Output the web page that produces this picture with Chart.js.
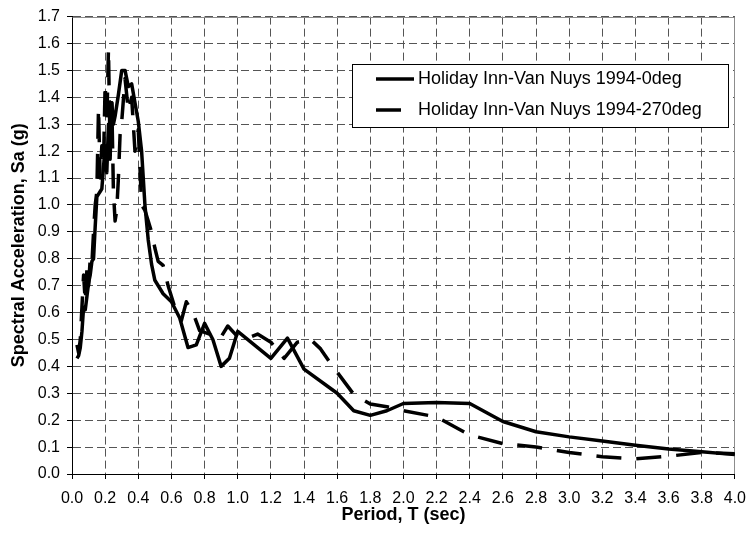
<!DOCTYPE html>
<html>
<head>
<meta charset="utf-8">
<script src="https://cdn.jsdelivr.net/npm/chart.js@4/dist/chart.umd.min.js"></script>
<style>
  body { margin: 0; background: #fff; }
  #wrap { width: 756px; height: 542px; position: relative; }
</style>
</head>
<body>
<div id="wrap"><canvas id="myChart"></canvas></div>
<script>
// series labels
const seriesNames = ["Holiday Inn-Van Nuys 1994-0deg", "Holiday Inn-Van Nuys 1994-270deg"];

// 0deg component (solid)
const period0 = [0.03,0.04,0.05,0.06,0.07,0.08,0.09,0.10,0.11,0.12,0.13,0.14,0.15,0.16,0.17,0.18,0.19,0.20,0.21,0.22,0.23,0.24,0.25,0.26,
  0.28,0.30,0.32,0.34,0.36,0.38,0.40,0.42,0.44,0.46,0.48,0.50,
  0.55,0.60,0.65,0.70,0.75,0.80,0.85,0.90,0.95,1.00,
  1.20,1.30,1.40,1.60,1.70,1.80,1.90,2.00,
  2.20,2.40,2.60,2.80,3.00,3.20,3.40,3.60,3.80,4.00];
const sa0 = [0.43,0.44,0.47,0.53,0.62,0.61,0.66,0.71,0.74,0.79,0.80,0.92,1.03,1.04,1.05,1.06,1.14,1.22,1.12,1.30,1.17,1.38,1.30,1.33,
  1.41,1.50,1.50,1.44,1.45,1.38,1.31,1.20,1.00,0.87,0.78,0.72,
  0.67,0.64,0.58,0.47,0.48,0.56,0.50,0.40,0.43,0.53,
  0.43,0.505,0.39,0.30,0.235,0.218,0.235,0.262,
  0.266,0.262,0.195,0.157,0.138,0.123,0.107,0.093,0.083,0.072];

// 270deg component (dashed)
const period270 = [0.03,0.04,0.05,0.06,0.07,0.08,0.09,0.10,0.11,0.12,0.13,0.14,0.15,0.16,0.17,0.18,0.19,0.20,0.21,0.22,0.23,0.24,0.25,0.26,0.27,0.28,0.29,0.30,
  0.32,0.34,0.36,0.38,0.40,0.42,0.44,0.46,0.48,0.50,
  0.52,0.55,0.58,0.62,0.66,0.69,0.73,0.77,0.83,0.89,0.94,1.00,
  1.08,1.12,1.20,1.28,1.36,1.44,1.50,1.55,
  1.70,1.80,1.90,2.00,
  2.20,2.40,2.60,2.80,3.00,3.20,3.40,3.60,3.80,4.00];
const sa270 = [0.48,0.45,0.50,0.62,0.74,0.64,0.76,0.70,0.80,0.78,0.90,1.00,1.05,1.36,1.10,1.22,1.15,1.45,1.30,1.58,1.20,1.38,1.05,0.94,0.98,1.10,1.26,1.31,
  1.47,1.35,1.40,1.20,1.28,1.00,0.98,0.94,0.90,0.84,
  0.79,0.775,0.70,0.62,0.57,0.64,0.60,0.533,0.52,0.50,0.55,0.51,
  0.51,0.52,0.49,0.43,0.49,0.50,0.465,0.42,
  0.296,0.26,0.25,0.235,
  0.212,0.145,0.113,0.10,0.08,0.064,0.056,0.066,0.08,0.075];

// axis ticks
const xTicks = [0.0,0.2,0.4,0.6,0.8,1.0,1.2,1.4,1.6,1.8,2.0,2.2,2.4,2.6,2.8,3.0,3.2,3.4,3.6,3.8,4.0];
const yTicks = [0.0,0.1,0.2,0.3,0.4,0.5,0.6,0.7,0.8,0.9,1.0,1.1,1.2,1.3,1.4,1.5,1.6,1.7];

const FONT = "'Liberation Sans', Arial, sans-serif";
Chart.defaults.color = '#000';
Chart.defaults.font.family = FONT;

const toPoints = (xs, ys) => xs.map((x, i) => ({ x: x, y: ys[i] }));

// gray frame on top/right of the plot
const frame = {
  id: 'frame',
  beforeDatasetsDraw(chart) {
    const { ctx, chartArea: a } = chart;
    ctx.save();
    ctx.strokeStyle = '#8c8c8c';
    ctx.lineWidth = 1;
    ctx.beginPath();
    ctx.moveTo(Math.round(a.left) + 0.5, Math.round(a.top) + 0.5);
    ctx.lineTo(Math.round(a.right) - 0.5, Math.round(a.top) + 0.5);
    ctx.lineTo(Math.round(a.right) - 0.5, Math.round(a.bottom));
    ctx.stroke();
    ctx.restore();
  }
};

// boxed legend inside the plot (like Excel)
const boxLegend = {
  id: 'boxLegend',
  afterDatasetsDraw(chart) {
    const ctx = chart.ctx;
    const bx = 352, by = 64, bw = 376, bh = 63;
    ctx.save();
    ctx.fillStyle = '#fff';
    ctx.fillRect(bx, by, bw, bh);
    ctx.strokeStyle = '#000';
    ctx.lineWidth = 1;
    ctx.strokeRect(bx + 0.5, by + 0.5, bw, bh);
    chart.data.datasets.forEach((ds, i) => {
      const y = 79 + i * 31;
      ctx.strokeStyle = ds.borderColor;
      ctx.lineWidth = ds.borderWidth;
      ctx.setLineDash(ds.borderDash || []);
      ctx.beginPath();
      ctx.moveTo(376, y);
      ctx.lineTo(414, y);
      ctx.stroke();
      ctx.setLineDash([]);
      ctx.fillStyle = '#000';
      ctx.font = '18px ' + FONT;
      ctx.textBaseline = 'middle';
      ctx.textAlign = 'left';
      ctx.fillText(ds.label, 418, y);
    });
    ctx.restore();
  }
};

const ctx = document.getElementById('myChart').getContext('2d');
const chart = new Chart(ctx, {
  type: 'line',
  data: {
    datasets: [{
      label: seriesNames[0],
      data: toPoints(period0, sa0),
      borderColor: '#000',
      borderWidth: 3.5,
      borderJoinStyle: 'round',
      pointRadius: 0,
      tension: 0
    }, {
      label: seriesNames[1],
      data: toPoints(period270, sa270),
      borderColor: '#000',
      borderWidth: 3.5,
      borderDash: [25, 15],
      borderJoinStyle: 'round',
      pointRadius: 0,
      tension: 0
    }]
  },
  options: {
    responsive: true,
    maintainAspectRatio: false,
    animation: false,
    layout: { padding: { top: 15, right: 12, left: 0, bottom: 0 } },
    plugins: {
      legend: { display: false },
      tooltip: { enabled: false }
    },
    scales: {
      x: {
        type: 'linear',
        min: 0,
        max: 4,
        afterBuildTicks: (scale) => { scale.ticks = xTicks.map(v => ({ value: v })); },
        afterFit: (scale) => { scale.height = 68; },
        ticks: {
          font: { size: 16 },
          padding: 10,
          maxRotation: 0,
          autoSkip: false,
          callback: (v) => Number(v).toFixed(1)
        },
        grid: { color: '#555', lineWidth: 1, tickLength: 5, tickColor: '#000', tickBorderDash: [] },
        border: { display: true, color: '#000', width: 1, dash: [8, 4] },
        title: {
          display: true,
          text: 'Period, T (sec)',
          font: { size: 18, weight: 'bold' },
          padding: { top: 0, bottom: 16 }
        }
      },
      y: {
        min: 0,
        max: 1.7,
        afterBuildTicks: (scale) => { scale.ticks = yTicks.map(v => ({ value: v })); },
        afterFit: (scale) => { scale.width = 72; },
        ticks: {
          font: { size: 16 },
          padding: 7,
          callback: (v) => Number(v).toFixed(1)
        },
        grid: { color: '#555', lineWidth: 1, tickLength: 5, tickColor: '#000', tickBorderDash: [] },
        border: { display: true, color: '#000', width: 1, dash: [8, 4] },
        title: {
          display: true,
          text: 'Spectral Acceleration, Sa (g)',
          font: { size: 18, weight: 'bold' },
          padding: { top: 8, bottom: 0 }
        }
      }
    }
  },
  plugins: [frame, boxLegend]
});
</script>
</body>
</html>
